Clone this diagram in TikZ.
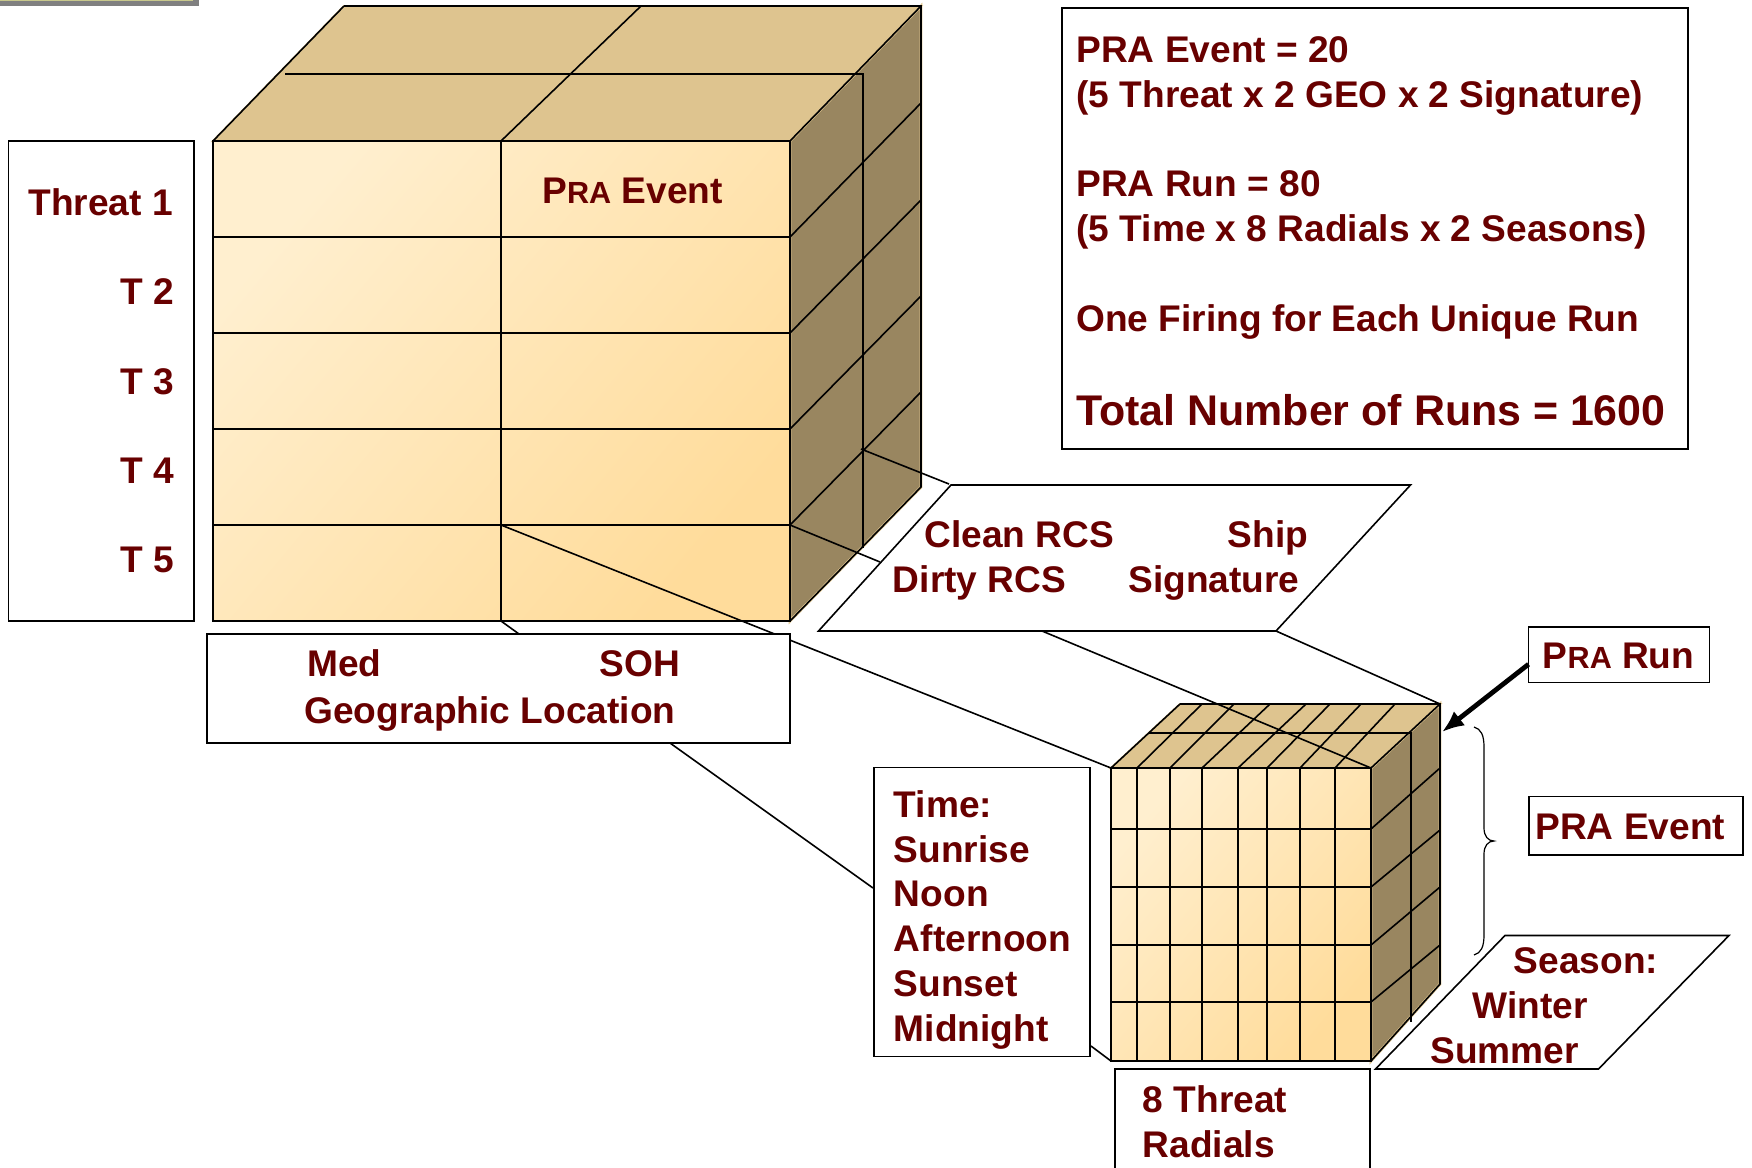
\documentclass[tikz,border=0pt]{standalone}
\usepackage{fontspec}
\usetikzlibrary{arrows.meta}
\setmainfont{Liberation Sans}
\definecolor{maroontext}{RGB}{104,0,0}
\definecolor{frontlight}{RGB}{255,239,207}
\definecolor{frontdark}{RGB}{255,220,155}
\definecolor{topfill}{RGB}{222,196,143}
\definecolor{sidefill}{RGB}{153,134,96}
\definecolor{barfill}{RGB}{200,200,140}
\tikzset{
	labeltext/.style={inner sep=0pt,anchor=base west,text=maroontext,font=\bfseries\fontsize{18.55}{22.4}\selectfont},
	blocktext/.style={labeltext,anchor=north west,align=left},
	bigtext/.style={labeltext,font=\bfseries\fontsize{21.45}{26}\selectfont},
	labelbox/.style={draw=black,fill=white,line width=0.8pt},
	framebox/.style={labelbox,inner sep=0pt,outer sep=0pt,anchor=north west},
	frontface/.style={shading=axis,left color=frontlight,right color=frontdark,shading angle=50},
	topface/.style={fill=topfill,draw=topfill,line width=1pt},
	sideface/.style={fill=sidefill,draw=topfill,line width=1.4pt},
	gridline/.style={black,line width=0.8pt},
}
\newcommand{\smallcaps}[1]{{\fontsize{15.3}{18}\selectfont #1}}
\begin{document}
\begin{tikzpicture}[x=0.5pt,y=-0.5pt]
	\useasboundingbox (0,0) rectangle (1752,1168);
	\clip (0,0) rectangle (1752,1168);
	% corners of the big block
	\coordinate (bignw) at (213,141);
	\coordinate (bigne) at (790,141);
	\coordinate (bigse) at (790,621);
	\coordinate (bigsw) at (213,621);
	\coordinate (bigbackl) at (344,6);
	\coordinate (bigbackr) at (921,6);
	\coordinate (bigbackb) at (921,487);
	\coordinate (bigrowse) at (790,525);
	\coordinate (bigrowmid) at (501,525);
	\coordinate (bigbotmid) at (501,621);
	\coordinate (bigslice) at (861,449);
	% corners of the small block
	\coordinate (smallnw) at (1111,768);
	\coordinate (smallne) at (1371,768);
	\coordinate (smallse) at (1371,1061);
	\coordinate (smallsw) at (1111,1061);
	\coordinate (smallbackl) at (1180,704);
	\coordinate (smallbackr) at (1440,704);
	\coordinate (smallbackb) at (1440,984);
	% scrap of a bar in the corner
	\draw [fill=barfill,draw=black!50,line width=2.7pt] (-5,-5) rectangle (196,3.5) ;
	% big block
	\fill [topface] (bignw) -- (bigbackl) -- (bigbackr) -- (bigne) -- cycle ;
	\draw [sideface] (bigne) -- (bigbackr) -- (bigbackb) -- (bigse) -- cycle ;
	\shade [frontface] (bignw) rectangle (bigse) ;
	\draw [gridline] (bignw) rectangle (bigse) ;
	\draw [gridline] (bigbackl) -- (bigbackr) -- (bigbackb) -- (bigse) ;
	\draw [gridline] (bignw) -- (bigbackl) (bigne) -- (bigbackr) ;
	\draw [gridline] (501,141) -- (bigbotmid) ;
	\draw [gridline] (213,237) -- (790,237) (213,333) -- (790,333) (213,429) -- (790,429) (213,525) -- (790,525) ;
	\draw [gridline] (501,141) -- (641,6) ;
	\draw [gridline] (285,74) -- (863,74) -- (863,548) ;
	\draw [gridline] (790,237) -- (921,103) (790,333) -- (921,200) (790,429) -- (921,296) (790,525) -- (921,392) ;
	% small block
	\fill [topface] (smallnw) -- (smallbackl) -- (smallbackr) -- (smallne) -- cycle ;
	\draw [sideface] (smallne) -- (smallbackr) -- (smallbackb) -- (smallse) -- cycle ;
	\shade [frontface] (smallnw) rectangle (smallse) ;
	\draw [gridline] (smallnw) rectangle (smallse) ;
	\draw [gridline] (smallbackl) -- (smallbackr) -- (smallbackb) -- (smallse) ;
	\draw [gridline] (smallne) -- (smallbackr) (smallnw) -- (smallbackl) ;
	\draw [gridline] (1137,768) -- (1137,1061) (1170,768) -- (1170,1061) (1202,768) -- (1202,1061) (1238,768) -- (1238,1061) ;
	\draw [gridline] (1267,768) -- (1267,1061) (1300,768) -- (1300,1061) (1335,768) -- (1335,1061) ;
	\draw [gridline] (1111,829) -- (1371,829) (1111,887) -- (1371,887) (1111,945) -- (1371,945) (1111,1002) -- (1371,1002) ;
	\draw [gridline] (1137,768) -- (1202,704) (1170,768) -- (1234,704) (1202,768) -- (1270,704) (1238,768) -- (1306,704) ;
	\draw [gridline] (1267,768) -- (1330,704) (1300,768) -- (1361,704) (1335,768) -- (1395,704) ;
	\draw [gridline] (1149,733) -- (1411,733) -- (1411,1022) ;
	\draw [gridline] (1371,829) -- (1440,768) (1371,887) -- (1440,830) (1371,945) -- (1440,887) (1371,1002) -- (1440,945) ;
	% leader lines between the blocks and their labels
	\coordinate (shipleft) at (949,484);
	\coordinate (shipedge) at (880,562);
	\coordinate (shipmid) at (1042,631);
	\coordinate (shipbr) at (1276,631);
	\coordinate (geobl) at (670,743);
	\coordinate (timeleft) at (873,888);
	\coordinate (geotop) at (519,634);
	\coordinate (timebr) at (1091,1046);
	\draw [gridline] (bigslice) -- (shipleft) ;
	\draw [gridline] (bigrowse) -- (shipedge) ;
	\draw [gridline] (bigrowmid) -- (smallnw) ;
	\draw [gridline] (bigbotmid) -- (geotop) ;
	\draw [gridline] (geobl) -- (timeleft) ;
	\draw [gridline] (timebr) -- (smallsw) ;
	\draw [gridline] (shipbr) -- (smallbackr) ;
	\draw [gridline] (shipmid) -- (smallne) ;
	% label frames
	\node [framebox,minimum width=92.75pt,minimum height=240pt] (threatbox) at (8.5,141) {} ;
	\node [framebox,minimum width=291.5pt,minimum height=54.5pt] (geobox) at (207,634) {} ;
	\node [framebox,minimum width=313pt,minimum height=220.5pt] (infobox) at (1062,8) {} ;
	\node [framebox,minimum width=108pt,minimum height=144.5pt] (timebox) at (874,767.5) {} ;
	\node [framebox,minimum width=127.5pt,minimum height=70pt] (radialbox) at (1115,1069) {} ;
	\node [framebox,minimum width=90.5pt,minimum height=27.75pt] (runbox) at (1528.5,627) {} ;
	\node [framebox,minimum width=107pt,minimum height=29.25pt] (eventbox) at (1529,796.5) {} ;
	\draw [labelbox] (951,485) -- (1410.5,485) -- (1276,631) -- (818.5,631) -- cycle ;
	\draw [labelbox] (1505,935.5) -- (1729,935.5) -- (1598.5,1069) -- (1375.5,1069) -- cycle ;
	% arrow and brace
	\coordinate (smallarrow) at (1442,732) ;
	\draw [line width=2.4pt,-{Latex[length=11pt,width=9pt]}] (runbox.186) -- (smallarrow) ;
	\draw [gridline,line width=0.6pt] (1474,727) .. controls (1481,729) and (1484,735) .. (1484,747) -- (1484,828) .. controls (1484,836) and (1488,841) .. (1494,841) .. controls (1488,841) and (1484,846) .. (1484,854) -- (1484,935) .. controls (1484,947) and (1481,953) .. (1474,955) ;
	% texts
	\node [labeltext] (threatone) at (28,215) {Threat 1} ;
	\node [labeltext] (threattwo) at (120.5,304) {T 2} ;
	\node [labeltext] (threatthree) at (120.5,394) {T 3} ;
	\node [labeltext] (threatfour) at (120.5,483) {T 4} ;
	\node [labeltext] (threatfive) at (120.5,572) {T 5} ;
	\node [labeltext] (cubeevent) at (542,203) {P\smallcaps{RA} Event} ;
	\node [labeltext] (med) at (307,676) {Med} ;
	\node [labeltext] (soh) at (599,676) {SOH} ;
	\node [labeltext] (geoloc) at (304,723) {Geographic Location} ;
	\node [labeltext] (eventcount) at (1076,62.5) {PRA Event = 20} ;
	\node [labeltext] (eventsplit) at (1076,107) {(5 Threat x 2 GEO x 2 Signature)} ;
	\node [labeltext] (runcount) at (1076,196.5) {PRA Run = 80} ;
	\node [labeltext] (runsplit) at (1076,241) {(5 Time x 8 Radials x 2 Seasons)} ;
	\node [labeltext] (firing) at (1076,331) {One Firing for Each Unique Run} ;
	\node [bigtext] (total) at (1076,425.5) {Total Number of Runs = 1600} ;
	\node [labeltext] (clean) at (924,547) {Clean RCS} ;
	\node [labeltext] (ship) at (1227.5,547) {Ship} ;
	\node [labeltext] (dirty) at (892.5,592) {Dirty RCS} ;
	\node [labeltext] (signature) at (1128,592) {Signature} ;
	\node [labeltext] (runlabel) at (1542.5,668) {P\smallcaps{RA} Run} ;
	\node [labeltext] (eventlabel) at (1535,839) {PRA Event} ;
	\node [blocktext] (timelist) at (893.5,790) {Time:\\Sunrise\\Noon\\Afternoon\\Sunset\\Midnight} ;
	\node [blocktext] (radials) at (1142.5,1085) {8 Threat\\Radials} ;
	\node [labeltext] (season) at (1513.5,973) {Season:} ;
	\node [labeltext] (winter) at (1472,1018.5) {Winter} ;
	\node [labeltext] (summer) at (1430,1063) {Summer} ;
\end{tikzpicture}
\end{document}
